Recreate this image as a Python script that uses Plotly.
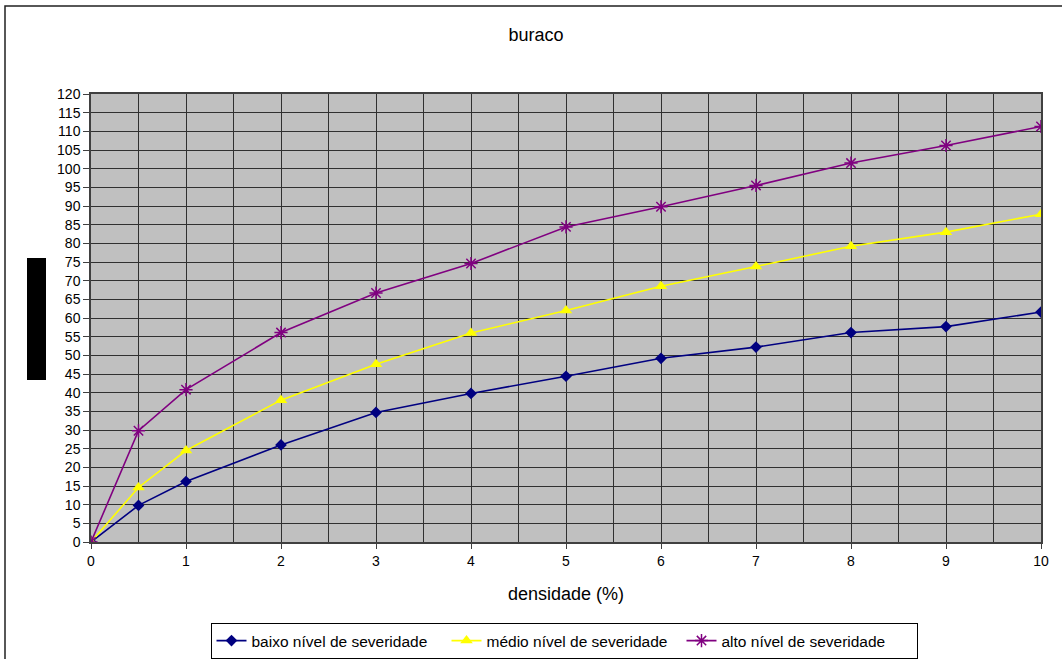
import plotly.graph_objects as go

# densidade (%) and the three severity curves
densidade = [0, 0.5, 1, 2, 3, 4, 5, 6, 7, 8, 9, 10]
baixo = [0, 9.8, 16.2, 26.0, 34.7, 39.8, 44.4, 49.2, 52.2, 56.1, 57.7, 61.6]
medio = [0, 14.6, 24.5, 38.0, 47.6, 56.0, 62.0, 68.5, 73.8, 79.2, 83.0, 87.8]
alto = [0, 29.8, 40.8, 56.1, 66.7, 74.6, 84.4, 89.8, 95.5, 101.5, 106.2, 111.3]

x_ticks = list(range(0, 11))
y_ticks = list(range(0, 121, 5))

W, H = 1062, 659
L, R, T, B = 91, 1041, 94, 542  # plot area in pixels


def px(x):
    return (x - L) / (R - L)


def py(y):
    return (B - y) / (B - T)


fig = go.Figure()
fig.add_trace(go.Scatter(
    x=densidade, y=baixo, name="baixo nível de severidade", mode="lines+markers",
    line=dict(color="#000080", width=1.6),
    marker=dict(symbol="diamond", size=9, color="#000080")))
fig.add_trace(go.Scatter(
    x=densidade, y=medio, name="médio nível de severidade", mode="lines+markers",
    line=dict(color="#FFFF00", width=1.6),
    marker=dict(symbol="triangle-up", size=11, color="#FFFF00")))
fig.add_trace(go.Scatter(
    x=densidade, y=alto, name="alto nível de severidade", mode="lines+markers",
    line=dict(color="#800080", width=1.6),
    marker=dict(symbol="asterisk-open", size=11, color="#800080",
                line=dict(color="#800080", width=1.5))))

font = dict(family="Liberation Sans, Arial, sans-serif", size=14, color="#000000")

fig.update_layout(
    width=W, height=H,
    margin=dict(l=L, r=W - R, t=T, b=H - B, autoexpand=False),
    paper_bgcolor="#FFFFFF",
    plot_bgcolor="#C0C0C0",
    font=font,
    showlegend=True,
    title=dict(text="buraco", xref="container", x=536 / W, xanchor="center",
               yref="container", y=1 - 35 / H, yanchor="middle",
               font=dict(size=18)),
    legend=dict(orientation="h", x=px(564), xanchor="center", y=py(641),
                yanchor="middle", bgcolor="#FFFFFF", bordercolor="#000000",
                borderwidth=1, font=dict(size=15.5), tracegroupgap=0,
                itemsizing="trace", entrywidth=190, entrywidthmode="pixels"),
    xaxis=dict(
        range=[0, 10], tickvals=x_ticks, ticktext=[str(v) for v in x_ticks],
        showgrid=True, gridcolor="#303030", gridwidth=1,
        minor=dict(dtick=0.5, tick0=0, showgrid=True, gridcolor="#303030",
                   gridwidth=1, ticks=""),
        ticks="outside", ticklen=5, tickcolor="#404040",
        showline=True, linecolor="#404040", linewidth=1.5, mirror=True,
        zeroline=False, title=dict(text="densidade (%)", font=dict(size=18),
                                   standoff=20),
        tickfont=dict(size=14)),
    yaxis=dict(
        range=[0, 120], tickvals=y_ticks, ticktext=[str(v) for v in y_ticks],
        showgrid=True, gridcolor="#303030", gridwidth=1,
        ticks="outside", ticklen=6, tickcolor="#404040",
        showline=True, linecolor="#404040", linewidth=1.5, mirror=True,
        zeroline=False, tickfont=dict(size=14)),
    shapes=[
        # black label block left of the value axis
        dict(type="rect", xref="paper", yref="paper",
             x0=px(27), x1=px(46), y0=py(380), y1=py(258),
             fillcolor="#000000", line=dict(width=0), layer="above"),
        # chart frame
        dict(type="rect", xref="paper", yref="paper",
             x0=px(5), x1=px(1070), y0=py(670), y1=py(6),
             fillcolor="rgba(0,0,0,0)", line=dict(color="#202020", width=1.5)),
    ],
)

fig.write_html("out.html")
